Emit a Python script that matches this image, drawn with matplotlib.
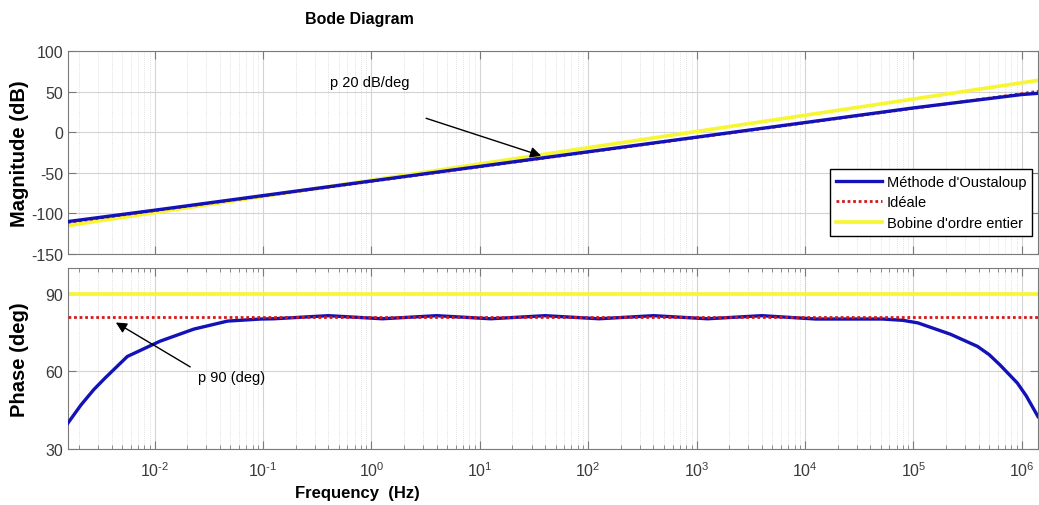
import matplotlib
matplotlib.use("Agg")
import matplotlib.pyplot as plt
from matplotlib.ticker import LogLocator, NullFormatter, FixedLocator, FixedFormatter

plt.rcParams['font.family'] = ['Liberation Sans', 'DejaVu Sans']
plt.rcParams['mathtext.default'] = 'regular'
plt.rcParams['axes.unicode_minus'] = False

# magnitude (dB), read at decade points
mag_freq = [1.585e-3, 1e-2, 1e-1, 1e0, 1e1, 1e2, 1e3, 1e4, 1e5, 1e6, 1.41e6]
mag_oustaloup = [-110, -96, -78, -60, -42, -24, -6, 12, 30, 46.5, 48]
mag_ideale = [-111, -96.5, -78.5, -60.5, -42.5, -24.5, -6.5, 11.5, 29.5, 47.5, 50.5]
mag_bobine = [-115, -99, -79, -59, -39, -19, 1, 21, 41, 61, 64]

# phase (deg)
phase_freq = [1.585e-3, 2.09e-3, 2.75e-3, 3.5e-3, 5.6e-3, 1.12e-2, 2.3e-2, 4.7e-2, 9.5e-2,
              0.126, 0.4, 1.26, 4.0, 12.6, 40, 126, 400, 1260, 4000, 1.26e4, 5.2e4,
              8e4, 1.1e5, 2.2e5, 3.9e5, 5.0e5, 6.3e5, 9.1e5, 1.1e6, 1.41e6]
phase_oustaloup = [40, 47, 53, 57.5, 65.8, 71.7, 76.4, 79.5, 80.3,
                   80.4, 81.6, 80.4, 81.6, 80.4, 81.6, 80.4, 81.6, 80.4, 81.6, 80.3, 80.3,
                   79.8, 78.8, 74.4, 69.7, 66.5, 62.5, 55.5, 50.5, 42.5]
phase_ideale = [81, 81]
phase_bobine = [90, 90]
phase_ends = [1.585e-3, 1.41e6]

# x ticks
decades = [1e-2, 1e-1, 1e0, 1e1, 1e2, 1e3, 1e4, 1e5, 1e6]
decade_labels = ['$10^{\u2010 2}$', '$10^{\u2010 1}$', '$10^{0}$', '$10^{1}$', '$10^{2}$',
                 '$10^{3}$', '$10^{4}$', '$10^{5}$', '$10^{6}$']

blue = '#1212b8'
red = '#d11a1a'
yellow = '#f6f633'
grey = '#7a7a7a'

fig = plt.figure(figsize=(10.39, 5.06), dpi=100)
ax1 = fig.add_axes([0.0654, 0.496, 0.9336, 0.401])
ax2 = fig.add_axes([0.0654, 0.111, 0.9336, 0.357])

l1, = ax1.plot(mag_freq, mag_oustaloup, color=blue, lw=2.4, label="Méthode d'Oustaloup", zorder=4)
l2, = ax1.plot(mag_freq, mag_ideale, color=red, lw=2.0, ls=(0, (1, 1)), label='Idéale', zorder=3)
l3, = ax1.plot(mag_freq, mag_bobine, color=yellow, lw=2.6, label="Bobine d'ordre entier", zorder=2)

ax2.plot(phase_ends, phase_bobine, color=yellow, lw=2.6, zorder=2)
ax2.plot(phase_freq, phase_oustaloup, color=blue, lw=2.4, zorder=3)
ax2.plot(phase_ends, phase_ideale, color=red, lw=2.0, ls=(0, (1, 1)), zorder=4)

for ax in (ax1, ax2):
    ax.set_xscale('log')
    ax.set_xlim(1.585e-3, 1.41e6)
    ax.xaxis.set_major_locator(FixedLocator(decades))
    ax.xaxis.set_major_formatter(FixedFormatter(decade_labels))
    ax.xaxis.set_minor_locator(LogLocator(base=10, subs=range(2, 10), numticks=200))
    ax.xaxis.set_minor_formatter(NullFormatter())
    ax.grid(True, which='major', color='#d4d4d4', lw=0.8)
    ax.grid(True, which='minor', color='#d8d8d8', lw=0.6, ls=(0, (1, 1.5)))
    ax.set_axisbelow(True)
    ax.tick_params(which='both', direction='in', top=True, right=True,
                   colors=grey, labelcolor='#3a3a3a', labelsize=11.5)
    ax.tick_params(which='major', length=6)
    ax.tick_params(which='minor', length=3)
    for s in ax.spines.values():
        s.set_color(grey)

ax1.set_ylim(-150, 100)
ax1.set_yticks([-150, -100, -50, 0, 50, 100])
ax1.tick_params(which='minor', length=0)
ax1.tick_params(labelbottom=False)
ax1.set_ylabel('Magnitude (dB)', fontsize=14.5, fontweight='bold')

ax2.set_ylim(30, 100)
ax2.set_yticks([30, 60, 90])
ax2.tick_params(axis='x', pad=8)
ax2.set_ylabel('Phase (deg)', fontsize=14.5, fontweight='bold')
ax2.set_xlabel('Frequency  (Hz)', fontsize=12, fontweight='bold')
ax2.xaxis.set_label_coords(0.298, -0.2)
ax1.yaxis.set_label_coords(-0.040, 0.5)
ax2.yaxis.set_label_coords(-0.040, 0.5)

leg = ax1.legend(handles=[l1, l2, l3], loc='upper right', bbox_to_anchor=(0.994, 0.419),
                 borderaxespad=0, fontsize=10.5, handlelength=3.2, handletextpad=0.3,
                 labelspacing=0.45, fancybox=False, framealpha=1, borderpad=0.4)
leg.get_frame().set_edgecolor('black')
leg.get_frame().set_linewidth(1.0)

ax1.text(10 ** -0.378, 61.6, 'p 20 dB/deg', fontsize=10.5, ha='left', va='center')
ax1.annotate('', xy=(10 ** 1.59, -30), xytext=(10 ** 0.48, 18.3),
             arrowprops=dict(arrowstyle='-|>', color='black', lw=1.0, mutation_scale=16))
ax2.text(10 ** -1.6, 57.7, 'p 90 (deg)', fontsize=10.5, ha='left', va='center')
ax2.annotate('', xy=(10 ** -2.38, 79.5), xytext=(10 ** -1.65, 61.2),
             arrowprops=dict(arrowstyle='-|>', color='black', lw=1.0, mutation_scale=16))

fig.text(0.346, 0.962, 'Bode Diagram', fontsize=11.5, fontweight='bold', ha='center', va='center')

fig.savefig('out.png', dpi=100)
